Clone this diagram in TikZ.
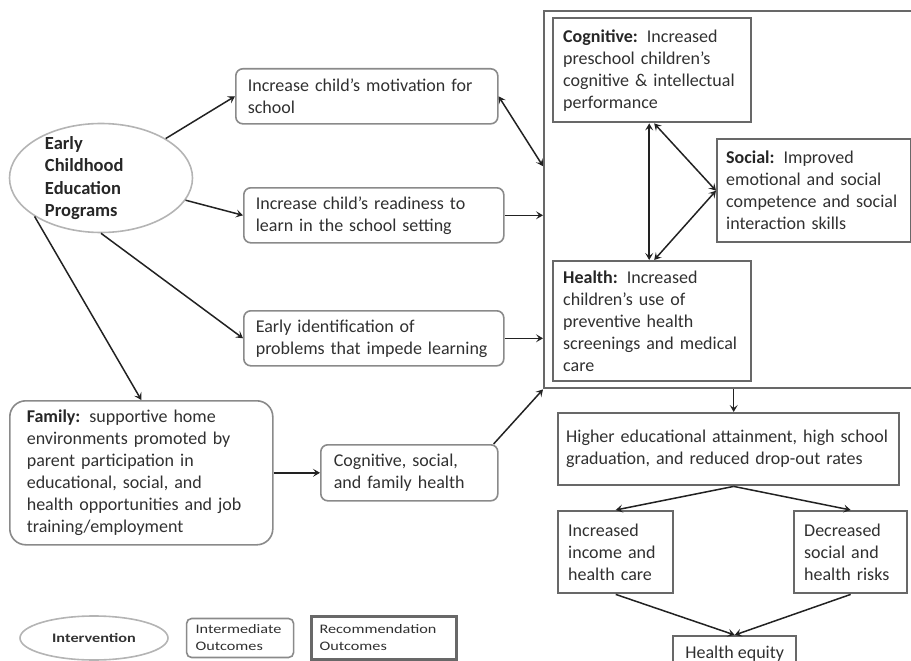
\documentclass[tikz,border=0pt]{standalone}
\usepackage{fontspec}
\setmainfont{Carlito}
\newfontfamily\legendfont[FakeStretch=1.25]{Carlito}
\usetikzlibrary{positioning, shapes.geometric, arrows.meta, calc}

\definecolor{txtgray}{HTML}{303030}
\definecolor{boxgray}{HTML}{8A8A8A}
\definecolor{recgray}{HTML}{686868}
\definecolor{ovalgray}{HTML}{B4B4B4}
\definecolor{arrowgray}{HTML}{222222}

\begin{document}
\begin{tikzpicture}[
    x=1pt, y=-1pt,
    >={Stealth[length=7pt, width=8pt, inset=3pt]},
    % Styles
    program/.style={ % Intervention oval
        ellipse,
        draw=ovalgray,
        line width=1.6pt,
        inner sep=0pt
    },
    interm/.style={ % Intermediate outcomes
        rectangle,
        rounded corners=7pt,
        draw=boxgray,
        line width=1.6pt,
        anchor=north west,
        align=left,
        inner xsep=12pt,
        inner ysep=0pt,
        text=txtgray,
        font=\fontsize{18}{22}\selectfont
    },
    recom/.style={ % Recommendation outcomes
        rectangle,
        draw=recgray,
        line width=2.4pt,
        anchor=north west,
        align=left,
        inner xsep=10pt,
        inner ysep=0pt,
        text=txtgray,
        font=\fontsize{18}{22}\selectfont
    },
    arrow/.style={
        ->,
        line width=1.5pt,
        draw=arrowgray
    },
    biarrow/.style={ % Two-way arrows
        arrow,
        <->
    }
]
    \useasboundingbox (0,0) rectangle (911,661);

    % Intervention
    \node[program, minimum width=183pt, minimum height=109pt] (ece) at (101,178) {};
    \node[font=\bfseries\fontsize{18.5}{22.5}\selectfont, text=black!85, align=left,
          text width=112pt, inner sep=0pt] (ecetxt) at (ece.center)
          {Early\\Childhood\\Education\\Programs};

    % Intermediate outcomes
    \node[interm, minimum width=262pt, minimum height=55pt, text width=238pt] (mot) at (235,68)
        {Increase child’s motivation for\\school};
    \node[interm, minimum width=260pt, minimum height=55pt, text width=236pt] (ready) at (243,187)
        {Increase child’s readiness to\\learn in the school setting};
    \node[interm, minimum width=260pt, minimum height=55pt, text width=236pt] (ident) at (243,310)
        {Early identification of\\problems that impede learning};
    \node[interm, rounded corners=16pt, minimum width=263pt, minimum height=144pt,
          inner xsep=17pt, text width=229pt] (fam) at (9,400)
        {\textbf{\textcolor{black!85}{Family:}} supportive home\\environments promoted by\\parent participation in\\educational, social, and\\health opportunities and job\\training/employment};
    \node[interm, minimum width=177pt, minimum height=56pt, inner xsep=13pt, text width=151pt] (fh) at (320,444)
        {Cognitive, social,\\and family health};

    % Recommendation outcomes
    \node[recom, minimum width=372pt, minimum height=377pt] (outer) at (543,10) {};
    \node[recom, minimum width=198pt, minimum height=104pt, text width=178pt] (cog) at (552,17)
        {\textbf{\textcolor{black!85}{Cognitive:}} Increased\\preschool children’s\\cognitive \& intellectual\\performance};
    \node[recom, minimum width=194pt, minimum height=103pt, inner xsep=9pt, text width=176pt] (social) at (716,138)
        {\textbf{\textcolor{black!85}{Social:}} Improved\\emotional and social\\competence and social\\interaction skills};
    \node[recom, minimum width=198pt, minimum height=120pt, text width=178pt] (health) at (552,260)
        {\textbf{\textcolor{black!85}{Health:}} Increased\\children’s use of\\preventive health\\screenings and medical\\care};
    \node[recom, minimum width=341pt, minimum height=72pt, inner xsep=8pt, text width=325pt] (higher) at (557,412)
        {Higher educational attainment, high school\\graduation, and reduced drop-out rates};
    \node[recom, minimum width=115pt, minimum height=82pt, text width=95pt] (income) at (557,510)
        {Increased\\income and\\health care};
    \node[recom, minimum width=113pt, minimum height=82pt, text width=93pt] (decr) at (793,510)
        {Decreased\\social and\\health risks};
    \node[recom, minimum width=123pt, minimum height=34pt] (equity) at (672,635) {Health equity};

    % Legend
    \node[program, minimum width=148pt, minimum height=44pt,
          font=\legendfont\bfseries\fontsize{13}{15}\selectfont, text=black!80] (legint) at (94,638) {Intervention};
    \node[interm, rounded corners=5pt, minimum width=107pt, minimum height=39pt, inner xsep=9pt,
          text width=89pt, font=\legendfont\fontsize{13}{17}\selectfont, right=17pt of legint] (legmid)
        {Intermediate\\Outcomes};
    \node[recom, minimum width=145pt, minimum height=43pt, inner xsep=8pt,
          text width=129pt, font=\legendfont\fontsize{13}{17}\selectfont, right=16pt of legmid] (legrec)
        {Recommendation\\Outcomes};

    % Arrows from the programs
    \draw[arrow] (ece) -- (mot.west);
    \draw[arrow] (ece) -- (ready.west);
    \draw[arrow] (ece.south) -- (ident.west);
    \draw[arrow] (ece.210) -- (fam.north);

    % Arrows into the recommendation outcomes
    \draw[biarrow] (mot.east) -- ([yshift=33.5pt]outer.west);
    \draw[arrow] (ready.east) -- (outer.west |- ready.east);
    \draw[arrow] (ident.east) -- (outer.west |- ident.east);
    \draw[arrow] (fam.east) -- (fh.west);
    \draw[arrow] ([xshift=-5pt]fh.north east) -- (outer.south west);

    % Arrows between cognitive, social and health
    \draw[biarrow] ([xshift=-3pt]cog.south) -- ([xshift=-3pt]health.north);
    \draw[biarrow] ([xshift=2pt]cog.south) -- (social.west);
    \draw[biarrow] ([xshift=2pt]health.north) -- (social.west);

    % Long-term outcomes
    \draw[arrow] ([xshift=5pt]higher.north |- outer.south) -- ([xshift=5pt]higher.north);
    \draw[arrow] ([xshift=5pt]higher.south) -- (income.north);
    \draw[arrow] ([xshift=5pt]higher.south) -- (decr.north);
    \draw[arrow] (income.south) -- (equity.north);
    \draw[arrow] (decr.south) -- (equity.north);
\end{tikzpicture}
\end{document}
